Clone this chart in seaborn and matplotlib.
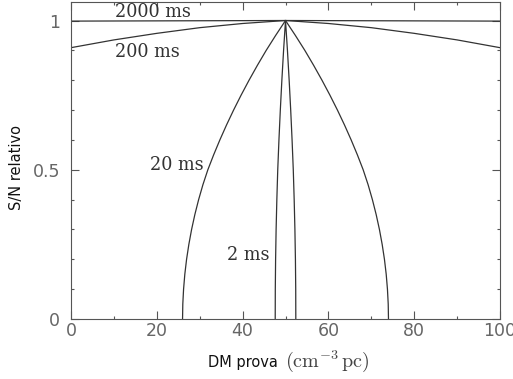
import matplotlib
matplotlib.use("Agg")
import matplotlib.pyplot as plt
from matplotlib.ticker import MultipleLocator, FixedLocator
import pandas as pd
import seaborn as sns

# Relative S/N versus trial DM for four pulse widths
dm_2000 = [0, 50, 100]
sn_2000 = [0.998, 1.0, 0.998]

dm_200 = [0, 10, 20, 30, 40, 50, 60, 70, 80, 90, 100]
sn_200 = [0.909, 0.935, 0.957, 0.976, 0.990, 1.0, 0.990, 0.976, 0.957, 0.935, 0.909]

dm_20 = [26.0, 26.06, 26.24, 26.53, 26.94, 27.47, 28.11, 28.87, 29.75, 30.75,
         31.9, 33.25, 34.7, 36.25, 37.9, 39.65, 41.5, 43.45, 45.5, 47.7, 50.0,
         52.3, 54.5, 56.55, 58.5, 60.35, 62.1, 63.75, 65.3, 66.75, 68.1,
         69.25, 70.25, 71.13, 71.89, 72.53, 73.06, 73.47, 73.76, 73.94, 74.0]
sn_20 = [0.0, 0.05, 0.10, 0.15, 0.20, 0.25, 0.30, 0.35, 0.40, 0.45,
         0.50, 0.55, 0.60, 0.65, 0.70, 0.75, 0.80, 0.85, 0.90, 0.95, 1.0,
         0.95, 0.90, 0.85, 0.80, 0.75, 0.70, 0.65, 0.60, 0.55, 0.50,
         0.45, 0.40, 0.35, 0.30, 0.25, 0.20, 0.15, 0.10, 0.05, 0.0]

dm_2 = [47.6, 47.62, 47.69, 47.81, 47.98, 48.19, 48.47, 48.79, 49.15, 49.55, 50.0,
        50.45, 50.85, 51.21, 51.53, 51.81, 52.02, 52.19, 52.31, 52.38, 52.4]
sn_2 = [0.0, 0.1, 0.2, 0.3, 0.4, 0.5, 0.6, 0.7, 0.8, 0.9, 1.0,
        0.9, 0.8, 0.7, 0.6, 0.5, 0.4, 0.3, 0.2, 0.1, 0.0]

widths = ["2000 ms", "200 ms", "20 ms", "2 ms"]
series = [(dm_2000, sn_2000), (dm_200, sn_200), (dm_20, sn_20), (dm_2, sn_2)]

frames = []
for w, (xs, ys) in zip(widths, series):
    frames.append(pd.DataFrame({"dm": xs, "sn": ys, "width": w}))
df = pd.concat(frames, ignore_index=True)

# Label placement (DM, S/N) for each curve name
label_x = [10.3, 10.3, 18.3, 36.3]
label_y = [1.027, 0.893, 0.516, 0.214]

sns.set_theme(style="ticks")
plt.rcParams["font.family"] = ["DejaVu Sans"]
plt.rcParams["mathtext.fontset"] = "cm"

fig = plt.figure(figsize=(5.13, 3.79), dpi=100)
ax = fig.add_axes([0.1384, 0.1583, 0.8363, 0.8372])

sns.lineplot(data=df, x="dm", y="sn", units="width", estimator=None, sort=False,
             color="#333333", linewidth=0.9, ax=ax, legend=False)

for name, lx, ly in zip(widths, label_x, label_y):
    ax.text(lx, ly, name, ha="left", va="center", fontsize=12.7,
            family="DejaVu Serif", color="#333333")

ax.set_xlim(0, 100)
ax.set_ylim(0, 1.063)
ax.xaxis.set_major_locator(MultipleLocator(20))
ax.xaxis.set_minor_locator(MultipleLocator(10))
ax.yaxis.set_major_locator(FixedLocator([0, 0.5, 1]))
ax.yaxis.set_minor_locator(MultipleLocator(0.1))
ax.set_yticklabels(["0", "0.5", "1"])

ax.tick_params(which="both", direction="in", top=True, right=True,
               color="#555555", width=0.8)
ax.tick_params(which="major", length=5.5, labelsize=12.5, labelcolor="#666666")
ax.tick_params(which="minor", length=2.5)
ax.tick_params(axis="x", which="major", pad=2)
ax.tick_params(axis="y", which="major", pad=8)
for sp in ax.spines.values():
    sp.set_visible(True)
    sp.set_color("#555555")
    sp.set_linewidth(0.8)

# Axis titles: plain words plus the unit set in math type
ax.set_xlabel("")
fig.text(208 / 513, 0.031, "DM prova", ha="left", va="baseline",
         fontsize=10.5, color="#111111")
fig.text(285 / 513, 0.031, r"$(\mathrm{cm}^{-3}\,\mathrm{pc})$", ha="left",
         va="baseline", fontsize=14.5, color="#444444")
ax.set_ylabel("S/N relativo", fontsize=10.5, color="#111111")
ax.yaxis.set_label_coords(-0.11, 0.476)

fig.savefig("out.png", dpi=100)
